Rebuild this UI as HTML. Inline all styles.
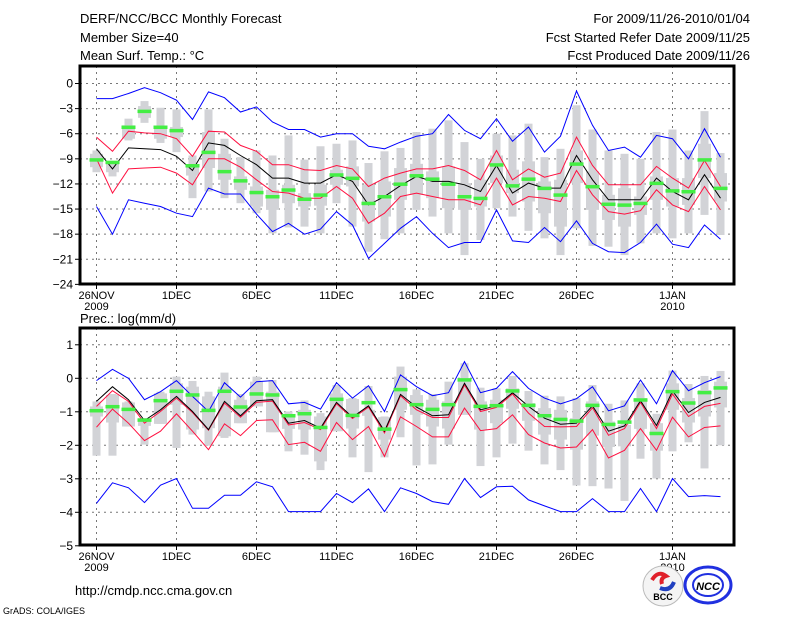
<!DOCTYPE html>
<html><head><meta charset="utf-8"><style>
html,body{margin:0;padding:0;background:#fff}
svg{display:block}
text{font-family:"Liberation Sans",sans-serif;fill:#000}
</style></head><body>
<svg id="chart" width="800" height="618" viewBox="0 0 800 618" xmlns="http://www.w3.org/2000/svg">
<g font-size="13">
<text x="80" y="23">DERF/NCC/BCC Monthly Forecast</text>
<text x="80" y="42">Member Size=40</text>
<text x="80" y="60">Mean Surf. Temp.: °C</text>
<text x="750" y="23" text-anchor="end">For 2009/11/26-2010/01/04</text>
<text x="750" y="42" text-anchor="end">Fcst Started Refer Date 2009/11/25</text>
<text x="750" y="60" text-anchor="end">Fcst Produced Date 2009/11/26</text>
<text x="80" y="323" font-size="13">Prec.: log(mm/d)</text>
</g>
<g id="top"></g>
<g id="bot"></g>
<text x="75" y="595" font-size="13">http://cmdp.ncc.cma.gov.cn</text>
<text x="3" y="614" font-size="9">GrADS: COLA/IGES</text>
<g>
<circle cx="663" cy="586" r="20" fill="#f4f4f4" stroke="#bbb"/>
<path d="M652 580 q6-10 14-4 q-6 2-4 8" fill="none" stroke="#e0202a" stroke-width="4"/>
<path d="M674 582 q-4 10-14 6" fill="none" stroke="#2040c0" stroke-width="4"/>
<text x="663" y="600" font-size="9" font-weight="bold" text-anchor="middle" fill="#333">BCC</text>
</g>
<g>
<ellipse cx="708" cy="585" rx="23" ry="18" fill="none" stroke="#2030e0" stroke-width="3"/>
<ellipse cx="708" cy="585" rx="15" ry="11" fill="none" stroke="#2030e0" stroke-width="2"/>
<text x="708" y="590" font-size="11" font-weight="bold" font-style="italic" text-anchor="middle" fill="#2030e0">NCC</text>
</g>
</svg>
<script>
const days = ["26NOV","27","28","29","30","1DEC","2","3","4","5","6DEC","7","8","9","10","11DEC","12","13","14","15","16DEC","17","18","19","20","21DEC","22","23","24","25","26DEC","27","28","29","30","31","1JAN","2","3","4"];
const xTickLabels = ["26NOV","1DEC","6DEC","11DEC","16DEC","21DEC","26DEC","1JAN"];
const xTickDays = [0,5,10,15,20,25,30,36];
const tYTicks = [0,-3,-6,-9,-12,-15,-18,-21,-24];
const pYTicks = [1,0,-1,-2,-3,-4,-5];

const tBlueUp = [-1.8,-1.8,-1.2,-0.5,-1.1,-2.0,-4.3,-1.0,-1.7,-3.4,-2.8,-4.6,-5.5,-5.5,-6.4,-6.0,-6.0,-7.5,-7.8,-7.0,-6.3,-6.0,-3.7,-5.6,-6.6,-4.2,-6.9,-5.2,-8.2,-6.3,-0.9,-5.0,-8.0,-7.6,-8.8,-6.2,-6.6,-9.0,-5.4,-8.8];
const tRedUp = [-6.4,-8.1,-5.7,-5.9,-6.0,-6.6,-8.7,-5.7,-5.8,-7.4,-8.1,-9.7,-9.7,-10.3,-10.4,-9.8,-10.2,-12.3,-11.3,-10.7,-10.2,-10.2,-9.8,-10.4,-11.5,-8.0,-11.5,-10.2,-11.2,-10.7,-6.4,-9.8,-12.1,-12.1,-12.1,-9.9,-11.3,-12.5,-9.2,-12.3];
const tMean = [-7.8,-10.2,-7.7,-7.8,-7.9,-8.7,-10.4,-7.1,-7.4,-8.6,-9.7,-11.3,-11.3,-11.9,-11.9,-10.9,-11.7,-14.5,-13.5,-12.2,-11.1,-11.7,-11.7,-12.1,-12.9,-9.8,-13.1,-11.9,-12.5,-12.5,-8.6,-11.5,-13.9,-13.9,-13.9,-11.3,-12.9,-13.9,-10.9,-13.7];
const tRedLo = [-9.0,-13.1,-10.2,-10.1,-10.0,-10.7,-12.1,-9.0,-9.0,-10.0,-11.5,-12.9,-13.1,-13.7,-13.7,-12.3,-13.7,-16.7,-15.5,-13.5,-13.1,-13.5,-13.9,-13.9,-14.5,-11.3,-14.5,-13.5,-13.7,-14.1,-10.4,-13.3,-15.3,-15.6,-15.2,-12.7,-14.5,-15.3,-12.3,-15.1];
const tBlueLo = [-14.7,-18.0,-13.9,-14.3,-14.7,-15.5,-15.9,-12.5,-13.2,-13.2,-15.6,-17.7,-16.7,-18.0,-17.4,-15.3,-16.9,-20.9,-19.1,-17.3,-15.9,-17.9,-19.6,-19.0,-19.0,-15.1,-18.8,-19.0,-17.2,-18.9,-16.4,-19.1,-20.1,-20.2,-19.0,-16.8,-19.2,-19.6,-16.9,-18.6];
const tGreen = [-9.1,-9.4,-5.2,-3.3,-5.2,-5.6,-9.8,-8.2,-10.5,-11.6,-13.0,-13.5,-12.7,-13.8,-13.3,-10.9,-11.3,-14.3,-13.5,-12.0,-11.0,-11.4,-12.0,-13.5,-13.7,-9.7,-12.2,-11.4,-12.5,-13.3,-9.6,-12.3,-14.4,-14.5,-14.3,-11.9,-12.8,-12.9,-9.1,-12.5];
const tWhiskTop = [-8.0,-9.5,-4.2,-2.1,-2.9,-3.1,-8.6,-3.1,-6.6,-8.8,-8.0,-8.6,-6.2,-9.1,-7.5,-7.2,-6.8,-9.5,-8.1,-7.7,-5.8,-5.4,-4.4,-7.0,-9.0,-6.0,-6.2,-4.8,-8.8,-7.8,-2.6,-5.5,-8.0,-8.4,-9.0,-5.8,-5.5,-8.0,-3.3,-8.3];
const tBoxTop = [-8.4,-9.6,-5.0,-2.7,-5.1,-5.2,-9.7,-5.8,-8.4,-11.1,-12.3,-12.7,-12.1,-13.1,-12.1,-10.3,-9.9,-12.1,-11.7,-10.1,-9.6,-10.5,-9.9,-11.9,-11.5,-8.6,-10.3,-9.3,-11.7,-11.5,-8.0,-10.5,-13.3,-12.5,-13.5,-11.1,-11.3,-11.3,-7.2,-10.7];
const tBoxBot = [-10.0,-10.6,-6.6,-4.1,-6.6,-6.4,-11.0,-10.1,-11.5,-12.7,-14.7,-15.1,-14.3,-14.7,-14.6,-12.1,-12.3,-16.5,-15.9,-13.9,-13.3,-13.7,-14.9,-15.1,-14.7,-11.9,-13.1,-14.1,-15.5,-17.1,-11.9,-15.1,-16.3,-17.1,-15.7,-13.9,-14.7,-14.5,-11.3,-14.1];
const tWhiskBot = [-10.6,-11.1,-6.8,-4.7,-7.1,-8.2,-13.7,-12.9,-13.7,-14.3,-15.5,-17.9,-17.2,-17.1,-17.9,-14.3,-17.1,-20.1,-18.6,-17.9,-15.1,-15.9,-17.9,-20.5,-18.7,-14.9,-15.9,-17.6,-18.5,-20.5,-17.3,-19.4,-19.5,-20.5,-19.1,-17.9,-18.5,-17.9,-15.7,-18.1];

const pBlueUp = [-0.07,0.27,0,-0.64,-0.4,-0.07,-0.54,-0.99,-0.13,-0.56,-0.1,-0.07,-0.76,-0.72,-0.92,-0.13,-0.59,-0.22,-0.99,0.1,-0.25,-0.52,-0.43,0.5,-0.43,-0.3,0.2,-0.3,-0.59,-0.76,-0.61,-0.25,-0.97,-0.82,-0.05,-0.76,0.23,-0.37,-0.13,0.05];
const pRedUp = [-0.84,-0.37,-0.69,-1.34,-0.99,-0.59,-1.02,-1.55,-0.74,-1.16,-0.72,-0.68,-1.39,-1.32,-1.53,-0.76,-1.2,-0.86,-1.63,-0.52,-0.94,-1.17,-1.17,-0.2,-0.99,-0.87,-0.47,-1.04,-1.44,-1.45,-1.44,-0.88,-1.7,-1.5,-0.72,-1.5,-0.47,-1.14,-0.84,-0.75];
const pMean = [-0.69,-0.25,-0.64,-1.26,-0.94,-0.54,-0.99,-1.53,-0.69,-1.12,-0.67,-0.64,-1.34,-1.26,-1.49,-0.72,-1.16,-0.82,-1.58,-0.48,-0.86,-1.12,-1.09,-0.15,-0.94,-0.82,-0.43,-0.84,-1.19,-1.37,-1.34,-0.82,-1.58,-1.42,-0.67,-1.41,-0.38,-1.02,-0.72,-0.57];
const pRedLo = [-1.46,-0.92,-1.34,-1.86,-1.58,-1.06,-1.58,-2.13,-1.36,-1.71,-1.26,-1.24,-1.98,-1.91,-2.18,-1.32,-1.83,-1.44,-2.33,-1.15,-1.44,-1.75,-1.75,-0.89,-1.56,-1.5,-1.09,-1.68,-1.93,-2.08,-2.05,-1.53,-2.38,-2.15,-1.5,-2.15,-1.16,-1.75,-1.47,-1.42];
const pBlueLo = [-3.73,-3.12,-3.27,-3.71,-3.19,-2.99,-3.88,-3.88,-3.49,-3.49,-3.09,-3.24,-3.98,-3.98,-3.98,-3.44,-3.71,-3.3,-3.98,-3.27,-3.44,-3.68,-3.76,-2.99,-3.56,-3.24,-3.22,-3.63,-3.81,-3.98,-3.98,-3.59,-3.98,-3.98,-3.29,-3.98,-2.99,-3.53,-3.5,-3.53];
const pGreen = [-0.96,-0.84,-0.92,-1.24,-0.66,-0.38,-0.49,-0.95,-0.38,-0.85,-0.46,-0.49,-1.11,-1.05,-1.46,-0.62,-1.1,-0.72,-1.51,-0.33,-0.78,-0.92,-0.78,-0.04,-0.83,-0.81,-0.37,-0.8,-1.11,-1.22,-1.27,-0.8,-1.37,-1.3,-0.64,-1.64,-0.39,-0.73,-0.42,-0.28];
const pWhiskTop = [-0.69,-0.47,-0.69,-1.19,-0.4,0.05,-0.08,-0.4,0.17,-0.47,0.05,-0.05,-0.99,-0.66,-1.04,-0.2,-0.59,-0.23,-1.14,0.35,-0.33,-0.47,-0.1,0.45,-0.28,-0.3,0.07,-0.38,-0.52,-0.54,-0.59,-0.2,-0.76,-0.66,-0.15,-1.06,0.23,-0.17,0.07,0.22];
const pBoxTop = [-0.84,-0.5,-0.72,-1.19,-0.45,-0.15,-0.25,-0.54,-0.25,-0.64,-0.1,-0.4,-1.09,-0.94,-1.14,-0.45,-0.62,-0.94,-1.16,0.05,-0.5,-0.64,-0.69,0,-0.69,-0.64,-0.3,-0.74,-0.89,-0.94,-1.19,-0.69,-1.29,-1.39,-0.59,-1.34,-0.15,-0.59,-0.35,-0.1];
const pBoxBot = [-1.14,-1.32,-1.44,-1.42,-1.36,-0.79,-1.53,-1.49,-1.73,-1.34,-0.84,-1.61,-1.51,-1.53,-2.48,-1.58,-1.5,-1.12,-1.83,-0.94,-1.09,-1.44,-1.5,-1.09,-1.53,-1.34,-0.91,-1.27,-1.68,-1.83,-2.13,-1.71,-2.05,-2.03,-1.51,-2.16,-0.94,-1.32,-1.14,-0.87];
const pWhiskBot = [-2.31,-2.31,-1.44,-1.98,-1.36,-2.08,-1.68,-2.01,-1.78,-1.34,-0.84,-1.61,-2.18,-2.28,-2.74,-1.58,-2.36,-2.8,-2.36,-1.76,-2.6,-2.57,-1.98,-1.09,-2.62,-2.36,-1.95,-2.16,-2.57,-2.74,-3.2,-3.22,-3.29,-3.66,-2.4,-2.99,-2.18,-1.91,-2.69,-2.0];

const NS = "http://www.w3.org/2000/svg";
const X0 = 96.5, DX = 16, LEFT = 80, RIGHT = 734;
function xAt(i){ return X0 + i*DX; }
function mk(parent, tag, attrs){
  const e = document.createElementNS(NS, tag);
  for (const k in attrs) e.setAttribute(k, attrs[k]);
  parent.appendChild(e);
  return e;
}

function panel(g, top, bottom, yFn, yTicks, yFmt, S, showYear){
  // gridlines
  yTicks.forEach(function(v){
    const y = yFn(v);
    if (y > top+2 && y < bottom-2){
      const l = mk(g,'line',{x1:LEFT,x2:RIGHT,y1:y,y2:y,stroke:'#777','stroke-dasharray':'2,4','stroke-width':1});
      
      
    }
    const tk = mk(g,'line',{x1:LEFT-5,x2:LEFT,y1:y,y2:y,stroke:'#000'});
    
    
    const t = mk(g,'text',{x:LEFT-7,y:y+4,'text-anchor':'end','font-size':12});
    t.textContent = yFmt(v);
    
    
  });
  xTickDays.forEach(function(d, k){
    const x = xAt(d);
    const l = mk(g,'line',{x1:x,x2:x,y1:top,y2:bottom,stroke:'#777','stroke-dasharray':'2,4','stroke-width':1});
    
    
    const tk = mk(g,'line',{x1:x,x2:x,y1:bottom,y2:bottom+5,stroke:'#000'});
    
    
    const t = mk(g,'text',{x:x,y:bottom+15,'text-anchor':'middle','font-size':11});
    t.textContent = xTickLabels[k];
    
    
  });
  const y1 = mk(g,'text',{x:xAt(0),y:bottom+26,'text-anchor':'middle','font-size':11});
  y1.textContent = '2009';
  
  
  const y2 = mk(g,'text',{x:xAt(36),y:bottom+26,'text-anchor':'middle','font-size':11});
  y2.textContent = '2010';
  
  
  // gray bars
  days.forEach(function(d,i){
    const x = xAt(i);
    const w = mk(g,'rect',{x:x-4,y:yFn(S.wt[i]),width:8,height:Math.max(1,yFn(S.wb[i])-yFn(S.wt[i])),fill:'#d2d3d7'});
    
    
    const b = mk(g,'rect',{x:x-6.5,y:yFn(S.bt[i]),width:13,height:Math.max(1,yFn(S.bb[i])-yFn(S.bt[i])),fill:'#d2d3d7'});
    
    
  });
  // lines
  [[S.bu,'#0000ff','blue-upper-line'],[S.bl,'#0000ff','blue-lower-line'],[S.ru,'#ff1040','red-upper-line'],[S.rl,'#ff1040','red-lower-line'],[S.m,'#000','mean-line']].forEach(function(s){
    const pts = s[0].map(function(v,i){ return xAt(i)+','+yFn(v).toFixed(1); }).join(' ');
    const p = mk(g,'polyline',{points:pts,fill:'none',stroke:s[1],'stroke-width':1});
    
    
  });
  // green marks
  S.g.forEach(function(v,i){
    const r = mk(g,'rect',{x:xAt(i)-7,y:yFn(v)-1.5,width:14,height:3.5,fill:'#44ee44'});
    
    
  });
  const fr = mk(g,'rect',{x:LEFT,y:top,width:RIGHT-LEFT,height:bottom-top,fill:'none',stroke:'#000','stroke-width':3});
  
  
}

function tY(v){ return 83.5 - v*8.37; }
function pY(v){ return 378.3 - v*33.5; }
panel(document.getElementById('top'), 66, 284, tY, tYTicks, function(v){ return v===0?'0':'\u2212'+Math.abs(v); },
  {wt:tWhiskTop,bt:tBoxTop,bb:tBoxBot,wb:tWhiskBot,bu:tBlueUp,bl:tBlueLo,ru:tRedUp,rl:tRedLo,m:tMean,g:tGreen});
panel(document.getElementById('bot'), 328, 545, pY, pYTicks, function(v){ return v<0?'\u2212'+Math.abs(v):String(v); },
  {wt:pWhiskTop,bt:pBoxTop,bb:pBoxBot,wb:pWhiskBot,bu:pBlueUp,bl:pBlueLo,ru:pRedUp,rl:pRedLo,m:pMean,g:pGreen});
</script>
</body></html>
